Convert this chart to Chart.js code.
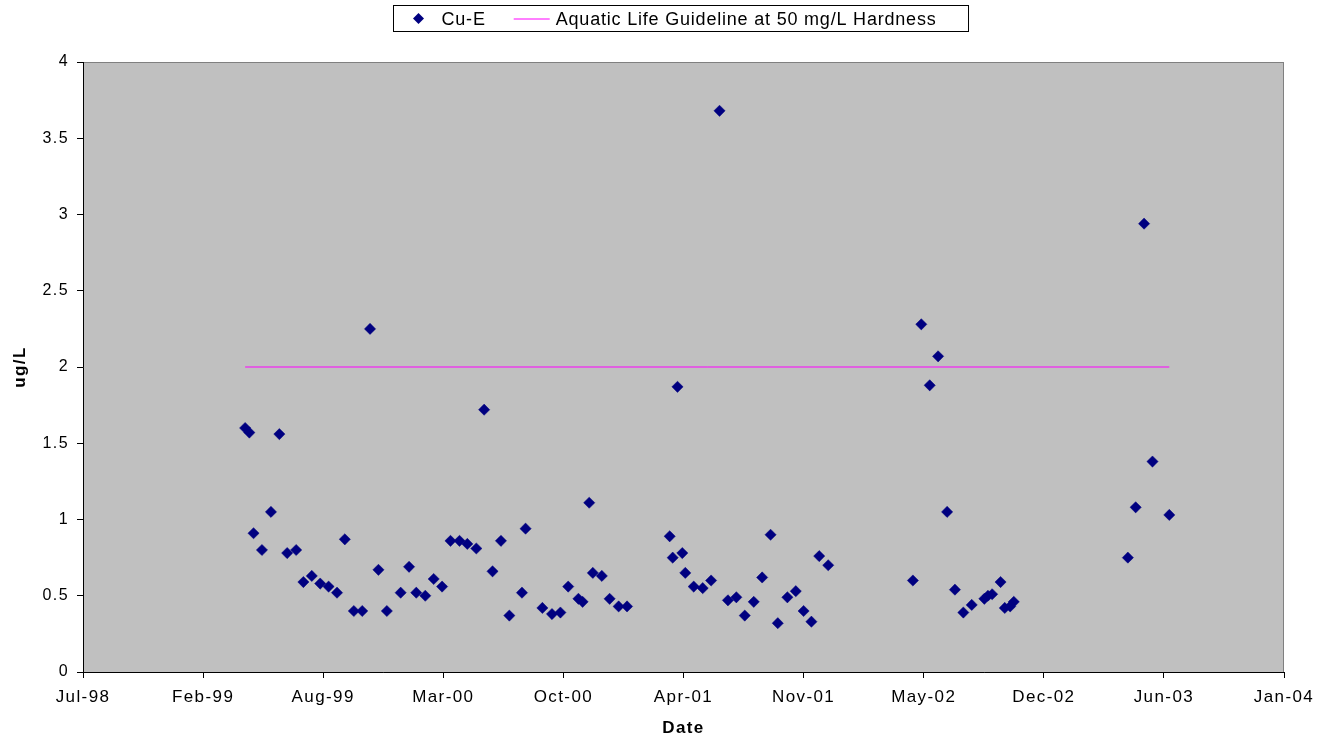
<!DOCTYPE html>
<html>
<head>
<meta charset="utf-8">
<script src="https://cdn.jsdelivr.net/npm/chart.js@4/dist/chart.umd.min.js"></script>
<style>
html,body{margin:0;padding:0;background:#ffffff;}
canvas{display:block;}
</style>
</head>
<body>
<canvas id="c" width="1327" height="742"></canvas>
<script>
// ---------- data ----------
const sampleDates = [
  '1999-04-20','1999-04-27','1999-05-04','1999-05-18','1999-06-02','1999-06-16','1999-06-29','1999-07-14',
  '1999-07-26','1999-08-09','1999-08-23','1999-09-06','1999-09-20','1999-10-03','1999-10-18','1999-11-01',
  '1999-11-14','1999-11-28','1999-12-12','2000-01-04','2000-01-18','2000-01-30','2000-02-14','2000-02-28',
  '2000-03-13','2000-03-27','2000-04-11','2000-04-24','2000-05-09','2000-05-22','2000-06-05','2000-06-19',
  '2000-07-03','2000-07-24','2000-07-30','2000-08-27','2000-09-12','2000-09-26','2000-10-09','2000-10-26',
  '2000-11-02','2000-11-13','2000-11-19','2000-12-04','2000-12-17','2001-01-01','2001-01-15',
  '2001-03-27','2001-04-01','2001-04-09','2001-04-17','2001-04-22','2001-05-06','2001-05-21','2001-06-04',
  '2001-06-18','2001-07-02','2001-07-16','2001-07-30','2001-08-14','2001-08-28','2001-09-11','2001-09-23',
  '2001-10-09','2001-10-23','2001-11-05','2001-11-18','2001-12-01','2001-12-16',
  '2002-05-06','2002-05-20','2002-06-03','2002-06-17','2002-07-02','2002-07-15','2002-07-29','2002-08-12',
  '2002-09-02','2002-09-08','2002-09-15','2002-09-29','2002-10-06','2002-10-15','2002-10-21',
  '2003-04-29','2003-05-12','2003-05-26','2003-06-09','2003-07-07'
];
const cuValues = [
  1.60,1.57,0.91,0.80,1.05,1.56,0.78,0.80,
  0.59,0.63,0.58,0.56,0.52,0.87,0.40,0.40,
  2.25,0.67,0.40,0.52,0.69,0.52,0.50,0.61,
  0.56,0.86,0.86,0.84,0.81,1.72,0.66,0.86,
  0.37,0.52,0.94,0.42,0.38,0.39,0.56,0.48,
  0.46,1.11,0.65,0.63,0.48,0.43,0.43,
  0.89,0.75,1.87,0.78,0.65,0.56,0.55,0.60,
  3.68,0.47,0.49,0.37,0.46,0.62,0.90,0.32,
  0.49,0.53,0.40,0.33,0.76,0.70,
  0.60,2.28,1.88,2.07,1.05,0.54,0.39,0.44,
  0.48,0.50,0.51,0.59,0.42,0.43,0.46,
  0.75,1.08,2.94,1.38,1.03
];
const guidelineValue = 2;
const seriesNames = ['Cu-E', 'Aquatic Life Guideline at 50 mg/L Hardness'];
const xTickLabels = ['Jul-98','Feb-99','Aug-99','Mar-00','Oct-00','Apr-01','Nov-01','May-02','Dec-02','Jun-03','Jan-04'];
const yTickLabels = ['0','0.5','1','1.5','2','2.5','3','3.5','4'];
const xAxisStart = 36000, xAxisEnd = 38000, xAxisStep = 200; // spreadsheet day serials
const yAxisMin = 0, yAxisMax = 4, yAxisStep = 0.5;
const xAxisTitle = 'Date';
const yAxisTitle = 'ug/L';

// ---------- helpers ----------
function toSerial(s) {
  const p = s.split('-').map(Number);
  return Date.UTC(p[0], p[1] - 1, p[2]) / 86400000 + 25569;
}
const cuPoints = sampleDates.map((d, i) => ({ x: toSerial(d), y: cuValues[i] }));
const guidePoints = [
  { x: toSerial(sampleDates[0]), y: guidelineValue },
  { x: toSerial(sampleDates[sampleDates.length - 1]), y: guidelineValue }
];

const FONT = '"Liberation Sans", Arial, Helvetica, sans-serif';
Chart.defaults.font.family = FONT;
Chart.defaults.color = '#000000';

const plotBg = {
  id: 'plotBg',
  beforeDraw(chart) {
    const { ctx, chartArea: a } = chart;
    ctx.save();
    ctx.fillStyle = '#ffffff';
    ctx.fillRect(0, 0, chart.width, chart.height);
    ctx.fillStyle = '#c0c0c0';
    ctx.fillRect(a.left, a.top, a.right - a.left, a.bottom - a.top);
    ctx.strokeStyle = '#808080';
    ctx.lineWidth = 1;
    ctx.strokeRect(a.left + 0.5, a.top + 0.5, a.right - a.left - 1, a.bottom - a.top);
    ctx.restore();
    ctx.letterSpacing = '1.4px';
  }
};

const boxLegend = {
  id: 'boxLegend',
  afterDraw(chart) {
    const { ctx, chartArea: a } = chart;
    const ds = chart.data.datasets;
    ctx.save();
    ctx.letterSpacing = '0.8px';
    ctx.font = '18px ' + FONT;
    const w1 = ctx.measureText(ds[0].label).width;
    const w2 = ctx.measureText(ds[1].label).width;
    const boxW = 25 + 23 + w1 + 28 + 36 + 6 + w2 + 32;
    const boxH = 26;
    const left = Math.round((a.left + a.right) / 2 - boxW / 2) - 2.5;
    const top = 5.5;
    const cy = top + 13.5;
    ctx.fillStyle = '#ffffff';
    ctx.fillRect(left, top, boxW, boxH);
    ctx.strokeStyle = '#000000';
    ctx.lineWidth = 1;
    ctx.strokeRect(left, top, boxW, boxH);
    // diamond
    const dx = left + 25, r = 5.5;
    ctx.fillStyle = ds[0].backgroundColor;
    ctx.beginPath();
    ctx.moveTo(dx - r, cy - 0.5); ctx.lineTo(dx, cy - 0.5 - r); ctx.lineTo(dx + r, cy - 0.5); ctx.lineTo(dx, cy - 0.5 + r);
    ctx.closePath(); ctx.fill();
    ctx.fillStyle = '#000000';
    ctx.textBaseline = 'middle';
    ctx.textAlign = 'left';
    const t1 = left + 48;
    ctx.fillText(ds[0].label, t1, cy + 1);
    const lx = t1 + w1 + 28;
    ctx.strokeStyle = ds[1].borderColor;
    ctx.beginPath(); ctx.moveTo(lx, cy); ctx.lineTo(lx + 36, cy); ctx.stroke();
    ctx.fillText(ds[1].label, lx + 42, cy + 1);
    ctx.restore();
  }
};

new Chart(document.getElementById('c'), {
  type: 'scatter',
  data: {
    datasets: [
      {
        label: seriesNames[0],
        data: cuPoints,
        showLine: false,
        pointStyle: 'rectRot',
        pointRadius: 5.6,
        pointHoverRadius: 5.6,
        backgroundColor: '#000080',
        borderColor: '#000080',
        borderWidth: 0.5
      },
      {
        label: seriesNames[1],
        data: guidePoints,
        showLine: true,
        pointRadius: 0,
        borderColor: '#ff00ff',
        backgroundColor: '#ff00ff',
        borderWidth: 1,
        fill: false
      }
    ]
  },
  options: {
    responsive: false,
    devicePixelRatio: 1,
    animation: false,
    events: [],
    layout: { padding: { top: 62, right: 43, bottom: 0, left: 0 } },
    plugins: { legend: { display: false }, tooltip: { enabled: false } },
    scales: {
      x: {
        type: 'linear',
        min: xAxisStart,
        max: xAxisEnd,
        afterFit(s) { s.height = 70; },
        ticks: {
          stepSize: xAxisStep,
          autoSkip: false,
          maxRotation: 0,
          padding: 9,
          color: '#000',
          font: { size: 17 },
          callback: (v, i) => xTickLabels[i]
        },
        grid: { drawOnChartArea: false, drawTicks: true, tickLength: 6, color: '#000' },
        border: { display: true, color: '#000', width: 1 },
        title: { display: true, text: xAxisTitle, color: '#000', font: { size: 17, weight: 'bold' }, padding: { top: 0, bottom: 3 } }
      },
      y: {
        min: yAxisMin,
        max: yAxisMax,
        afterFit(s) { s.width = 83; },
        ticks: {
          stepSize: yAxisStep,
          padding: 8,
          color: '#000',
          font: { size: 16 },
          callback: (v, i) => yTickLabels[i]
        },
        grid: { drawOnChartArea: false, drawTicks: true, tickLength: 6, color: '#000' },
        border: { display: true, color: '#000', width: 1 },
        title: { display: true, text: yAxisTitle, color: '#000', font: { size: 17, weight: 'bold' }, padding: { top: 10, bottom: 0 } }
      }
    }
  },
  plugins: [plotBg, boxLegend]
});
</script>
</body>
</html>
